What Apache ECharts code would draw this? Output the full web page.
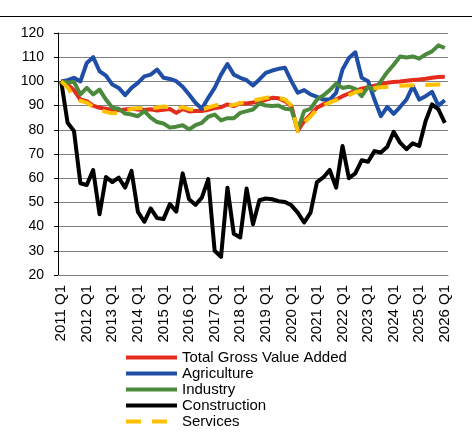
<!DOCTYPE html>
<html>
<head>
<meta charset="utf-8">
<script src="https://cdn.jsdelivr.net/npm/echarts@6/dist/echarts.min.js"></script>
<style>
  html, body { margin: 0; padding: 0; background: #fff; }
  #chart { width: 472px; height: 439px; }
</style>
</head>
<body>
<div id="chart"></div>
<script>
// quarterly index, 2011 Q1 = 100
const YEARS = [2011, 2012, 2013, 2014, 2015, 2016, 2017, 2018, 2019, 2020, 2021, 2022, 2023, 2024, 2025, 2026]
const QUARTERS = ['Q1', 'Q2', 'Q3', 'Q4']

const totalGva = [
  100, 98.7, 96.3, 92.5, 91.8, 90.0, 89.1, 88.7, 88.1, 88.1,
  88.4, 88.7, 88.4, 88.2, 88.5, 88.0, 88.3, 88.6, 87.0, 88.6,
  87.6, 87.8, 87.8, 88.3, 89.0, 89.3, 90.5, 89.8, 91.0, 90.9,
  91.3, 91.6, 92.4, 93.2, 93.0, 91.8, 89.8, 79.5, 83.6, 86.3,
  89.1, 90.5, 91.8, 92.5, 93.9, 95.0, 96.2, 97.0, 97.6, 98.2,
  98.9, 99.4, 99.8, 100.0, 100.3, 100.6, 100.8, 101.1, 101.5, 101.8, 101.9,
]
const agriculture = [
  100, 100.5, 101.5, 100.0, 107.6, 110.0, 104.2, 102.4, 98.7, 97.3,
  94.3, 97.3, 99.4, 102.1, 102.8, 104.9, 101.5, 101.0, 100.1, 97.8,
  94.6, 91.2, 88.7, 93.2, 97.3, 102.8, 107.2, 102.8, 101.5, 100.5,
  98.3, 100.8, 103.5, 104.5, 105.2, 105.6, 100.1, 95.3, 96.4, 94.6,
  93.6, 92.5, 92.5, 95.3, 104.9, 109.7, 112.0, 101.5, 100.1, 92.5,
  85.6, 89.5, 86.6, 89.4, 92.5, 98.0, 92.5, 93.9, 95.7, 90.0, 92.2,
]
const industry = [
  100, 99.5, 99.8, 94.6, 97.3, 94.6, 96.6, 92.5, 89.1, 88.7,
  86.7, 86.3, 85.6, 87.7, 85.0, 83.2, 82.6, 80.9, 81.3, 81.9,
  80.2, 81.9, 82.9, 85.4, 86.3, 83.9, 84.8, 84.8, 87.0, 87.7,
  88.4, 90.9, 90.0, 89.8, 90.0, 88.7, 88.4, 80.0, 87.7, 88.7,
  92.5, 94.2, 96.4, 99.1, 97.3, 97.8, 96.9, 93.9, 97.8, 96.4,
  100.1, 103.8, 106.9, 110.3, 109.9, 110.3, 109.4, 111.1, 112.4, 114.9, 113.8,
]
const construction = [
  100, 82.9, 79.5, 57.9, 57.2, 63.4, 45.1, 60.5, 58.4, 60.2,
  56.1, 63.0, 46.1, 42.0, 47.5, 43.5, 43.1, 49.3, 46.2, 62.0,
  51.3, 49.0, 52.0, 59.6, 30.0, 27.5, 56.1, 37.0, 35.5, 55.7,
  41.0, 50.9, 51.6, 51.3, 50.5, 50.2, 48.8, 45.8, 41.7, 45.8,
  58.4, 60.3, 63.4, 56.1, 73.3, 60.0, 62.0, 67.4, 66.8, 71.2,
  70.6, 73.0, 79.2, 74.7, 72.0, 74.4, 73.3, 83.6, 90.5, 88.4, 82.9,
]
const services = [
  100, 97.5, 93.5, 92.0, 91.2, 89.5, 88.3, 87.4, 86.8, 87.0,
  87.8, 88.6, 89.0, 89.0, 88.8, 89.2, 89.6, 89.4, 88.5, 89.4,
  88.5, 88.3, 88.3, 89.2, 90.0, 90.6, 89.9, 90.3, 91.0, 91.6,
  92.0, 92.6, 93.2, 93.7, 93.2, 92.5, 90.0, 79.5, 83.0, 85.5,
  88.5, 90.0, 91.3, 92.3, 93.2, 94.3, 95.5, 96.2, 96.8, 97.3,
  97.6, 97.8, 98.0, 98.2, 98.3, 98.4, 98.4, 98.5, 98.6, 98.7, 98.7,
]

const categories = []
YEARS.forEach((y) => {
  QUARTERS.forEach((q) => {
    if (categories.length < totalGva.length) categories.push(y + ' ' + q)
  })
})

const FONT = "'Liberation Sans', Arial, sans-serif"

function lineSeries(name, data, color, dashed) {
  return {
    name,
    type: 'line',
    data,
    symbol: 'none',
    smooth: false,
    lineStyle: { width: 4, color, type: dashed ? [15, 11] : 'solid', cap: 'butt', join: 'round' },
    itemStyle: { color },
    emphasis: { disabled: true },
  }
}

const chart = echarts.init(document.getElementById('chart'))
chart.setOption({
  animation: false,
  textStyle: { fontFamily: FONT },
  grid: { left: 58, right: 24, top: 33, bottom: 164, containLabel: false },
  graphic: [
    {
      type: 'line',
      shape: { x1: 0, y1: 16.5, x2: 472, y2: 16.5 },
      style: { stroke: '#000', lineWidth: 1 },
    },
  ],
  legend: {
    orient: 'vertical',
    left: 119,
    top: 345,
    itemWidth: 51,
    itemHeight: 14,
    itemGap: 1,
    itemStyle: { opacity: 0 },
    lineStyle: { width: 4 },
    textStyle: { fontFamily: FONT, fontSize: 15, color: '#000', padding: [0, 0, 0, 0] },
    data: ['Total Gross Value Added', 'Agriculture', 'Industry', 'Construction', 'Services'],
  },
  xAxis: {
    type: 'category',
    data: categories,
    boundaryGap: true,
    axisLine: { lineStyle: { color: '#7f7f7f', width: 1 } },
    axisTick: { show: false },
    axisLabel: {
      interval: 3,
      rotate: 90,
      margin: 10,
      fontFamily: FONT,
      fontSize: 15,
      color: '#000',
    },
    splitLine: { show: false },
  },
  yAxis: {
    type: 'value',
    min: 20,
    max: 120,
    interval: 10,
    axisLine: { show: true, lineStyle: { color: '#000', width: 1 } },
    axisTick: { show: true, length: 4, lineStyle: { color: '#000' } },
    axisLabel: { margin: 14, fontFamily: FONT, fontSize: 14, color: '#000' },
    splitLine: { lineStyle: { color: '#7f7f7f', width: 1 } },
  },
  series: [
    lineSeries('Total Gross Value Added', totalGva, '#e42c1c', false),
    lineSeries('Agriculture', agriculture, '#1f4ea6', false),
    lineSeries('Industry', industry, '#4b8a3c', false),
    lineSeries('Construction', construction, '#000000', false),
    lineSeries('Services', services, '#ffc000', true),
  ],
})
</script>
</body>
</html>
